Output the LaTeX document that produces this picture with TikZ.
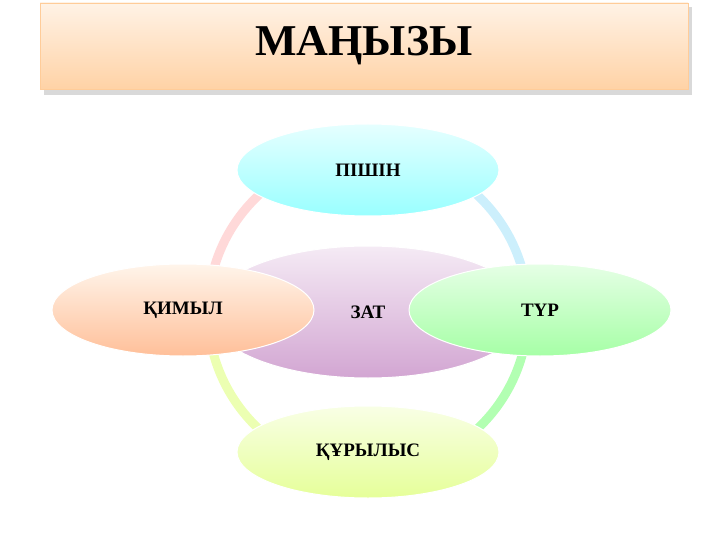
\documentclass[tikz,border=0pt]{standalone}
\usepackage{fontspec}
\setmainfont{Liberation Serif}
\usetikzlibrary{shapes.geometric}
\tikzset{
  part/.style={ellipse, draw=white, line width=1pt, minimum width=262pt, minimum height=92pt, font=\bfseries\fontsize{19}{22}\selectfont},
  ring/.style={line width=9pt}
}
\begin{document}
\begin{tikzpicture}[x=1pt,y=-1pt]
  \useasboundingbox (0,0) rectangle (720,540);
  % title
  \fill[black!15] (44,7) rectangle (692,95);
  \node[draw=orange!40, top color=orange!10, bottom color=orange!35, minimum width=648pt, minimum height=86pt, font=\bfseries\fontsize{44}{48}\selectfont] (title) at (364,46) {МАҢЫЗЫ};
  % ring
  \draw[ring, cyan!20] (368,312) ++(-90:160) arc (-90:0:160);
  \draw[ring, green!30] (368,312) ++(0:160) arc (0:90:160);
  \draw[ring, lime!30] (368,312) ++(90:160) arc (90:180:160);
  \draw[ring, red!15] (368,312) ++(180:160) arc (180:270:160);
  % center
  \node[part, minimum width=320pt, minimum height=132pt, top color=violet!8, bottom color=violet!35] (zat) at (368,312) {ЗАТ};
  \node[part, top color=cyan!10, bottom color=cyan!40] (pishin) at (368,170) {ПІШІН};
  \node[part, top color=green!10, bottom color=green!35] (tur) at (540,310) {ТҮР};
  \node[part, top color=lime!10, bottom color=lime!40] (qurylys) at (368,452) {ҚҰРЫЛЫС};
  \node[part, top color=orange!8, bottom color=red!25!orange!40] (qimyl) at (183,310) {ҚИМЫЛ};
\end{tikzpicture}
\end{document}
